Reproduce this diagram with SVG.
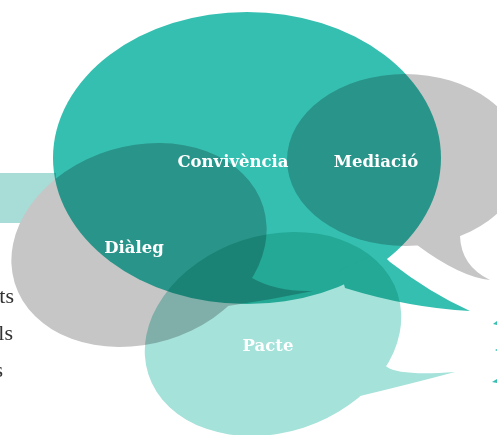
<svg xmlns="http://www.w3.org/2000/svg" width="497" height="435" viewBox="0 0 497 435">
<style>
.mul{mix-blend-mode:multiply}
.lbl{font-family:"DejaVu Serif","Liberation Serif",serif;font-weight:bold;font-size:16.5px;fill:#ffffff;text-anchor:middle}
.side{font-family:"Liberation Serif","DejaVu Serif",serif;font-size:22px;fill:#333333;text-anchor:end}
</style>
<rect width="497" height="435" fill="#ffffff"/>
<text class="side" x="14" y="303">ts</text>
<text class="side" x="13" y="340">ls</text>
<text class="side" x="3" y="377">s</text>
<rect id="bar" x="0" y="173" width="56" height="50" fill="#a8dcd6"/>
<g id="dialeg-bubble" fill="#c6c6c6">
<ellipse cx="139" cy="245" rx="130" ry="99" transform="rotate(-17 139 245)"/>
<path d="M240,270 L252,278 Q277,292 313,291 Q270,300 228,306 Z"/>
</g>
<g id="convivencia-bubble" class="mul" fill="#35bfb0">
<ellipse cx="247" cy="158" rx="194" ry="146"/>
<path d="M380,252 L390,262 Q430,293 470,311 Q410,308 345,288 L340,270 Z"/>
</g>
<g id="mediacio-bubble" class="mul" fill="#c6c6c6">
<ellipse cx="405" cy="160" rx="118" ry="86"/>
<path d="M412,238 L417,245 Q460,277 490,280 Q461,266 460,236 Z"/>
</g>
<g id="pacte-bubble" class="mul" fill="#a5e2da">
<ellipse cx="273" cy="334" rx="131" ry="98.5" transform="rotate(-18 273 334)"/>
<path d="M375,355 L387,367 Q400,376 455,372 Q410,384 360,396 Z"/>
</g>
<g id="edge-bits" fill="#35bfb0">
<path d="M493,324 L497,321 L497,325 Z"/>
<path d="M495,350 L497,349 L497,351 Z"/>
<path d="M492,382 L497,379 L497,383 Z"/>
</g>
<g id="labels">
<text id="convivencia" class="lbl" x="233" y="167">Convivència</text>
<text id="mediacio" class="lbl" x="376" y="167">Mediació</text>
<text id="dialeg" class="lbl" x="134" y="253">Diàleg</text>
<text id="pacte" class="lbl" x="268" y="351">Pacte</text>
</g>
</svg>
